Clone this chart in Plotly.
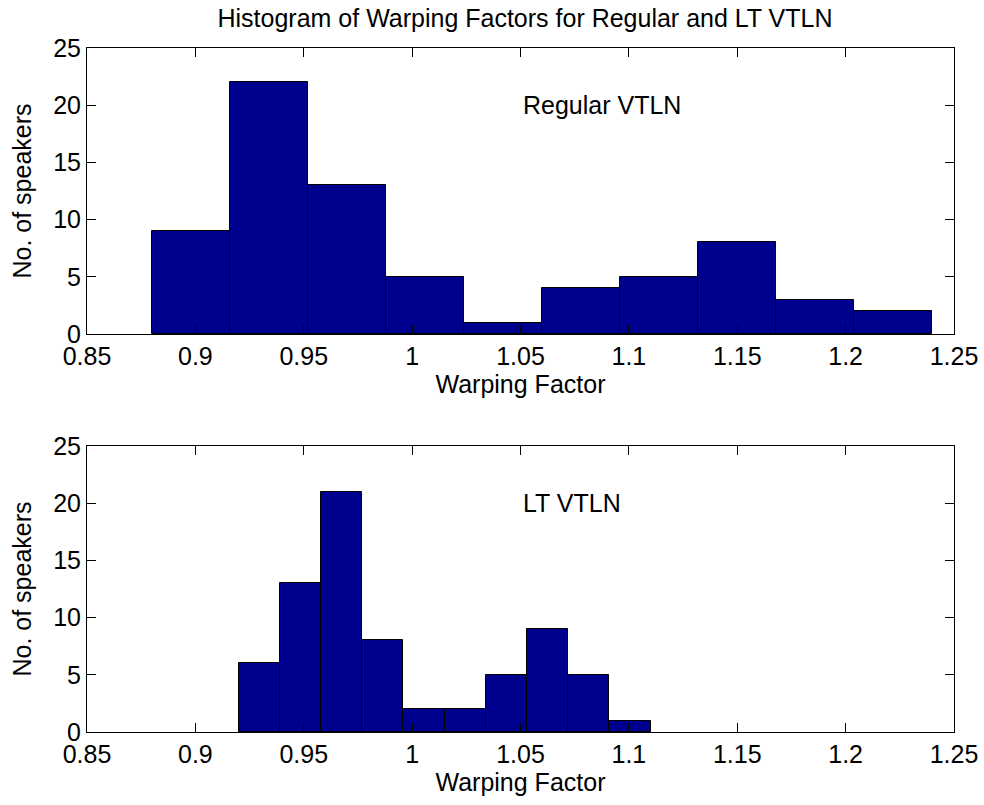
import plotly.graph_objects as go

# Data
regular_edges = [0.88, 0.916, 0.952, 0.988, 1.024, 1.060, 1.096, 1.132, 1.168, 1.204, 1.240]
regular_counts = [9, 22, 13, 5, 1, 4, 5, 8, 3, 2]

lt_edges = [0.92, 0.939, 0.958, 0.977, 0.996, 1.015, 1.034, 1.053, 1.072, 1.091, 1.110]
lt_counts = [6, 13, 21, 8, 2, 2, 5, 9, 5, 1]

x_ticks = [0.85, 0.9, 0.95, 1, 1.05, 1.1, 1.15, 1.2, 1.25]
x_tick_text = ["0.85", "0.9", "0.95", "1", "1.05", "1.1", "1.15", "1.2", "1.25"]
y_ticks = [0, 5, 10, 15, 20, 25]

FONT = "Liberation Sans, Arial, sans-serif"
FS = 25
BAR_COLOR = "rgb(0,0,143)"

fig = go.Figure()

def add_hist(edges, counts, xa, ya):
    lefts = edges[:-1]
    widths = [edges[i + 1] - edges[i] for i in range(len(counts))]
    fig.add_trace(go.Bar(
        x=lefts, y=counts, width=widths, offset=0,
        marker=dict(color=BAR_COLOR, line=dict(color="black", width=1)),
        xaxis=xa, yaxis=ya, showlegend=False, hoverinfo="x+y",
    ))

add_hist(regular_edges, regular_counts, "x", "y")
add_hist(lt_edges, lt_counts, "x2", "y2")

axis_common = dict(
    showline=True, linecolor="black", linewidth=1, mirror="ticks",
    ticks="inside", ticklen=9, tickcolor="black", tickwidth=1,
    showgrid=False, zeroline=False, automargin=False,
    tickfont=dict(family=FONT, size=FS, color="black"),
)

xcommon = dict(axis_common, range=[0.85, 1.25], tickvals=x_ticks, ticktext=x_tick_text,
               title=dict(text="Warping Factor", font=dict(family=FONT, size=FS, color="black"), standoff=6))
ycommon = dict(axis_common, range=[0, 25], tickvals=y_ticks,
               title=dict(text="No. of speakers", font=dict(family=FONT, size=FS, color="black"), standoff=14))

fig.update_layout(
    width=984, height=805,
    margin=dict(l=87, r=30, t=48, b=73),
    paper_bgcolor="white", plot_bgcolor="white",
    bargap=0,
    font=dict(family=FONT, color="black"),
    title=dict(text="Histogram of Warping Factors for Regular and LT VTLN",
               x=525 / 984, xanchor="center", y=1 - 18 / 805, yanchor="middle",
               font=dict(family=FONT, size=FS, color="black")),
    xaxis=dict(xcommon, domain=[0, 1], anchor="y"),
    yaxis=dict(ycommon, domain=[0.5819, 1], anchor="x"),
    xaxis2=dict(xcommon, domain=[0, 1], anchor="y2"),
    yaxis2=dict(ycommon, domain=[0, 0.4181], anchor="x2"),
    annotations=[
        dict(text="Regular VTLN", x=1.05, y=20, xref="x", yref="y", xanchor="left", yanchor="middle",
             showarrow=False, font=dict(family=FONT, size=FS, color="black")),
        dict(text="LT VTLN", x=1.05, y=20, xref="x2", yref="y2", xanchor="left", yanchor="middle",
             showarrow=False, font=dict(family=FONT, size=FS, color="black")),
    ],
)

fig.write_html("out.html", config={"displayModeBar": False},
               post_script="document.body.style.margin='0';")
